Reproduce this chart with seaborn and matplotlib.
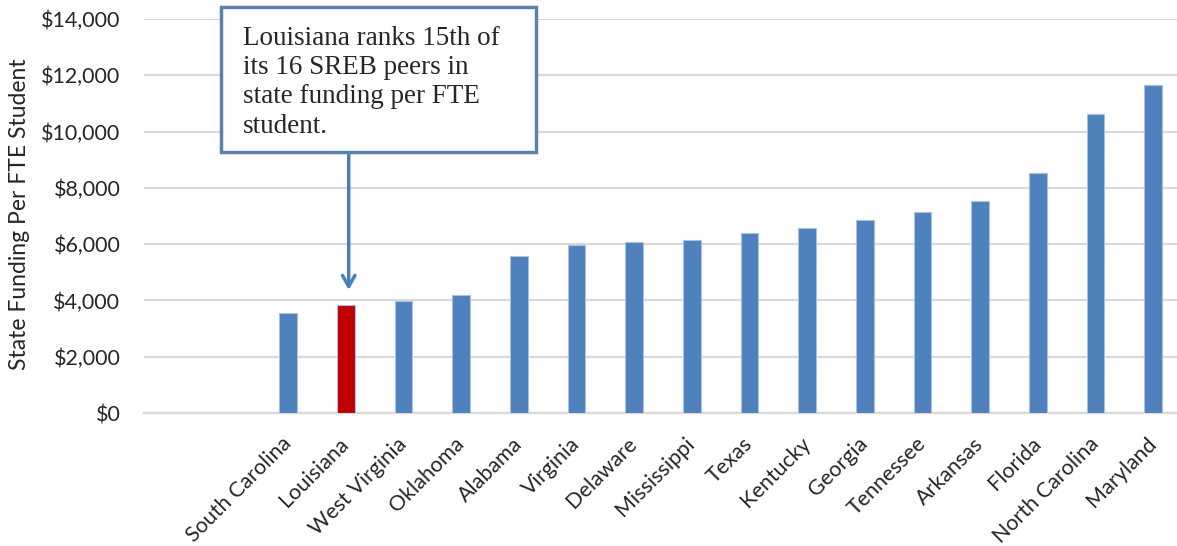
"""State funding per FTE student, SREB states."""
import matplotlib
matplotlib.use("Agg")
import matplotlib.pyplot as plt
import matplotlib.patches as patches
import seaborn as sns
import pandas as pd

states = ['South Carolina', 'Louisiana', 'West Virginia', 'Oklahoma', 'Alabama',
          'Virginia', 'Delaware', 'Mississippi', 'Texas', 'Kentucky', 'Georgia',
          'Tennessee', 'Arkansas', 'Florida', 'North Carolina', 'Maryland']
funding = [3560, 3840, 3990, 4190, 5570, 5960, 6090, 6140, 6390, 6570, 6860,
           7130, 7530, 8520, 10610, 11670]
yticks = list(range(0, 14001, 2000))
highlight = 'Louisiana'
note = "Louisiana ranks 15th of\nits 16 SREB peers in\nstate funding per FTE\nstudent."

BLUE = '#4f81bd'
RED = '#c00000'

df = pd.DataFrame({'state': states, 'funding': funding})
palette = {s: (RED if s == highlight else BLUE) for s in states}

sns.set_style("white")
plt.rcParams['font.family'] = ['Lato', 'DejaVu Sans']

W, H = 1177, 546
fig = plt.figure(figsize=(W / 100, H / 100), dpi=100)
# axes: x from 144px to 1182px (slightly past the edge), y from 19px to 413px
ax = fig.add_axes([144 / W, (H - 413) / H, (1182 - 144) / W, (413 - 19) / H])

sns.barplot(data=df, x='state', y='funding', hue='state', palette=palette,
            legend=False, width=0.31, saturation=1, edgecolor='#a9c0de',
            linewidth=0.8, ax=ax, zorder=3)

ax.set_xlim(-2.5, 15.5)
ax.set_ylim(0, 14000)
ax.set_yticks(yticks)
ax.set_yticklabels(['${:,}'.format(v) for v in yticks], fontsize=15.5)
ax.yaxis.grid(True, color='#d9d9d9', linewidth=1.6, zorder=0)
ax.set_axisbelow(True)
ax.tick_params(axis='both', length=0)
ax.tick_params(axis='y', pad=17)
for side in ['left', 'right', 'top']:
    ax.spines[side].set_visible(False)
ax.spines['bottom'].set_color('#d9d9d9')
ax.spines['bottom'].set_linewidth(1.6)

ax.set_xlabel('')
ax.set_ylabel('State Funding Per FTE Student', fontsize=16.5)
ax.yaxis.set_label_coords(-114 / (1182 - 144), 0.505)

ax.set_xticks(range(len(states)))
ax.set_xticklabels(states, rotation=45, ha='right', va='center',
                   rotation_mode='anchor', fontsize=15.5)
ax.tick_params(axis='x', pad=20)

# callout box and arrow
li = states.index(highlight)
ax.annotate('', xy=(li + 0.05, 4370), xytext=(li + 0.05, 9270),
            arrowprops=dict(arrowstyle='->,head_length=0.8,head_width=0.45',
                            color='#4a7ebb', lw=2.5, shrinkA=0, shrinkB=0),
            annotation_clip=False, zorder=5)
box = patches.Rectangle((221 / W, (H - 152) / H), (536 - 221) / W, (152 - 7) / H,
                        transform=fig.transFigure, facecolor='white',
                        edgecolor='#5b82ab', linewidth=2.5, zorder=6)
fig.patches.append(box)
fig.text(243 / W, (H - 26) / H, note, ha='left', va='top', fontsize=19.5,
         family='Liberation Serif', linespacing=1.22, zorder=7)

fig.savefig('out.png', dpi=100)
